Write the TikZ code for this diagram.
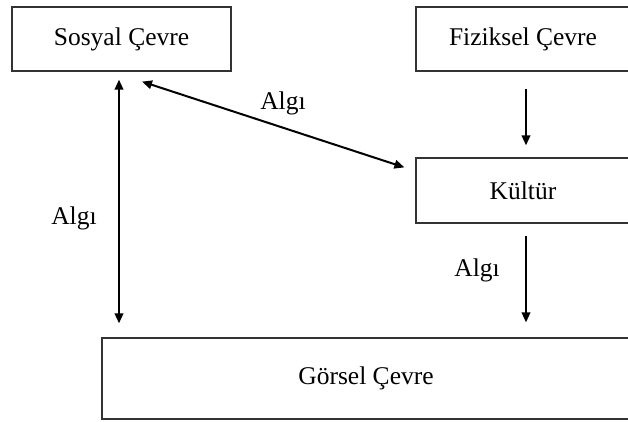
\documentclass[tikz,border=0pt]{standalone}
\usepackage{fontspec}
\setmainfont{Liberation Serif}
\usepackage{tikz}
\usetikzlibrary{arrows.meta, positioning, calc}
\definecolor{boxline}{HTML}{333333}

\tikzset{
  envbox/.style={draw=boxline, line width=1.2pt, inner sep=0pt, font=\fontsize{25.5}{30}\selectfont},
  flowarrow/.style={line width=2pt, -{Triangle[length=10pt, width=8.5pt]}},
  botharrow/.style={line width=2pt, {Triangle[length=10pt, width=8.5pt]}-{Triangle[length=10pt, width=8.5pt]}},
  algilabel/.style={font=\fontsize{25.5}{30}\selectfont}
}

\begin{document}
\begin{tikzpicture}[x=1pt, y=-1pt]
  \useasboundingbox (0,0) rectangle (628,422);

  % Environment boxes
  \node[envbox, minimum width=219pt, minimum height=64pt] (sosyal) at (121.5, 39) {Sosyal Çevre};
  \node[envbox, minimum width=214pt, minimum height=64pt] (fiziksel) at (523, 39) {Fiziksel Çevre};
  \node[envbox, minimum width=214pt, minimum height=65pt] (kultur) at (523, 190.5) {Kültür};
  \node[envbox, minimum width=528pt, minimum height=81pt] (gorsel) at (366, 378.5) {Görsel Çevre};

  % Perception links
  \draw[botharrow, shorten <=8pt, shorten >=14pt]
    ([xshift=-2.5pt]sosyal.south) -- ([xshift=-2.5pt]sosyal.south |- gorsel.north);
  \draw[botharrow]
    ([xshift=20.5pt, yshift=-10pt]sosyal.south) -- ([xshift=-11pt, yshift=-10pt]kultur.north west);
  \draw[flowarrow, shorten <=17pt, shorten >=12pt]
    ([xshift=3pt]fiziksel.south) -- ([xshift=3pt]kultur.north);
  \draw[flowarrow, shorten <=12pt, shorten >=15pt]
    ([xshift=3pt]kultur.south) -- ([xshift=3pt]kultur.south |- gorsel.north);

  \node[algilabel] (algisol) at (74, 218) {Algı};
  \node[algilabel] (algiust) at (283, 103) {Algı};
  \node[algilabel] (algialt) at (477, 270) {Algı};
\end{tikzpicture}
\end{document}
